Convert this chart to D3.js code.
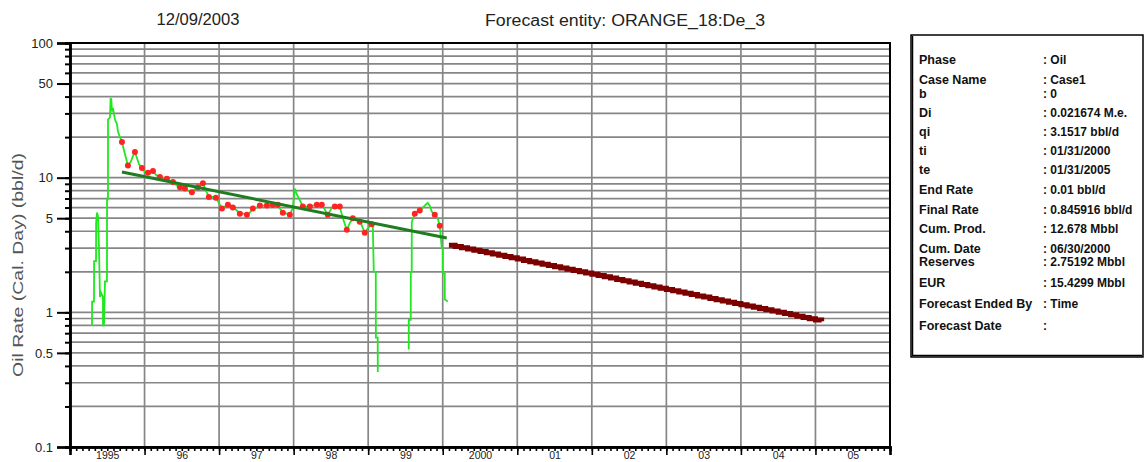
<!DOCTYPE html>
<html>
<head>
<meta charset="utf-8">
<script src="https://cdn.jsdelivr.net/npm/d3@7/dist/d3.min.js"></script>
<style>
  html, body { margin: 0; padding: 0; background: #fff; }
  svg { display: block; }
  text { font-family: "Liberation Sans", Arial, sans-serif; }
  .legend text { font-family: "Liberation Sans Narrow", "Arial Narrow", "Liberation Sans", sans-serif; font-weight: bold; }
</style>
</head>
<body>
<svg id="chart" width="1146" height="462"></svg>
<script>
// ---- Data ----------------------------------------------------------------
// Time is expressed in decimal years.
const plotDate = "12/09/2003";
const entityTitle = "Forecast entity: ORANGE_18:De_3";
const yAxisTitle = "Oil Rate (Cal. Day) (bbl/d)";

const yearTicks = [1995, 1996, 1997, 1998, 1999, 2000, 2001, 2002, 2003, 2004, 2005, 2006];
const yearLabels = ["1995", "96", "97", "98", "99", "2000", "01", "02", "03", "04", "05"];
const rateLabels = [0.1, 0.5, 1, 5, 10, 50, 100];

// Measured oil rate (null marks months with no production)
const actualRate = [
  [1995.295, 0.79], [1995.296, 1.2], [1995.322, 1.2], [1995.323, 2.4], [1995.349, 2.4],
  [1995.350, 4.6], [1995.362, 5.5], [1995.375, 5.2], [1995.389, 3.0], [1995.402, 1.3],
  [1995.416, 1.4], [1995.442, 1.3], [1995.443, 0.80], [1995.456, 0.80], [1995.469, 1.7],
  [1995.496, 1.7], [1995.497, 7.0], [1995.509, 7.0], [1995.510, 27], [1995.536, 28],
  [1995.545, 39], [1995.555, 38], [1995.563, 31], [1995.576, 33], [1995.603, 27],
  [1995.630, 25], [1995.643, 22], [1995.670, 20], [1995.697, 18.4], [1995.724, 16],
  [1995.751, 14], [1995.777, 12.3], [1995.818, 13.2], [1995.845, 14.5], [1995.871, 15.5],
  [1995.898, 14.0], [1995.925, 12.6], [1995.965, 11.8], [1996.005, 11.0], [1996.046, 10.9],
  [1996.080, 11.1], [1996.113, 11.2], [1996.153, 10.5], [1996.206, 10.1], [1996.247, 9.9],
  [1996.300, 9.8], [1996.340, 9.4], [1996.381, 9.3], [1996.434, 8.7], [1996.475, 8.5],
  [1996.542, 8.3], [1996.582, 8.0], [1996.635, 7.8], [1996.676, 8.2], [1996.716, 8.5],
  [1996.756, 8.8], [1996.783, 9.1], [1996.823, 8.0], [1996.863, 7.2], [1996.917, 7.2],
  [1996.957, 7.1], [1996.997, 6.5], [1997.038, 5.9], [1997.078, 6.1], [1997.118, 6.3],
  [1997.158, 6.2], [1997.185, 6.0], [1997.239, 5.7], [1997.279, 5.4], [1997.332, 5.4],
  [1997.373, 5.3], [1997.413, 5.5], [1997.453, 5.9], [1997.507, 6.0], [1997.547, 6.2],
  [1997.601, 6.2], [1997.641, 6.2], [1997.681, 6.2], [1997.721, 6.3], [1997.761, 6.3],
  [1997.788, 6.3], [1997.815, 5.9], [1997.855, 5.5], [1997.909, 5.4], [1997.949, 5.3],
  [1997.989, 6.0], [1998.016, 8.3], [1998.043, 7.5], [1998.083, 6.8], [1998.123, 6.1],
  [1998.164, 6.1], [1998.217, 6.1], [1998.257, 6.2], [1998.311, 6.3], [1998.351, 6.3],
  [1998.378, 6.3], [1998.418, 5.8], [1998.458, 5.3], [1998.499, 5.8], [1998.525, 6.1],
  [1998.552, 6.1], [1998.619, 6.1], [1998.660, 5.0], [1998.713, 4.1], [1998.753, 4.6],
  [1998.794, 5.0], [1998.820, 4.9], [1998.861, 4.8], [1998.887, 4.7], [1998.901, 4.6],
  [1998.954, 3.9], [1998.995, 4.2], [1999.048, 4.5], [1999.062, 4.5], [1999.075, 2.0],
  [1999.102, 2.0], [1999.103, 0.65], [1999.128, 0.65], [1999.129, 0.36],
  [1999.300, null],
  [1999.544, 0.53], [1999.545, 0.88], [1999.571, 0.88], [1999.572, 2.0], [1999.584, 2.0],
  [1999.585, 4.7], [1999.625, 5.4], [1999.665, 5.6], [1999.692, 5.7], [1999.732, 6.0],
  [1999.772, 6.3], [1999.799, 6.5], [1999.826, 6.2], [1999.853, 5.6], [1999.893, 5.3],
  [1999.933, 5.0], [1999.960, 4.4], [1999.987, 3.0], [2000.000, 3.0], [2000.001, 1.95],
  [2000.027, 1.95], [2000.028, 1.25], [2000.067, 1.2]
];

// Points selected for the decline fit
const fitPoints = [
  [1995.697, 18.4], [1995.777, 12.3], [1995.871, 15.5], [1995.965, 11.8], [1996.046, 10.9],
  [1996.113, 11.2], [1996.206, 10.1], [1996.300, 9.8], [1996.381, 9.3], [1996.475, 8.5],
  [1996.542, 8.3], [1996.635, 7.8], [1996.716, 8.5], [1996.783, 9.1], [1996.863, 7.2],
  [1996.957, 7.1], [1997.038, 5.9], [1997.118, 6.3], [1997.185, 6.0], [1997.279, 5.4],
  [1997.373, 5.3], [1997.453, 5.9], [1997.547, 6.2], [1997.641, 6.2], [1997.721, 6.3],
  [1997.788, 6.3], [1997.855, 5.5], [1997.949, 5.3], [1998.123, 6.1], [1998.217, 6.1],
  [1998.311, 6.3], [1998.378, 6.3], [1998.458, 5.3], [1998.552, 6.1], [1998.619, 6.1],
  [1998.713, 4.1], [1998.794, 5.0], [1998.887, 4.7], [1998.954, 3.9], [1999.048, 4.5],
  [1999.625, 5.4], [1999.692, 5.7], [1999.893, 5.3], [1999.960, 4.4]
];

// Exponential decline line through the history
const fitLine = [[1995.697, 11.0], [2000.054, 3.56]];

// Monthly forecast rates, 01/31/2000 to 01/31/2005
const forecastStart = 2000 + 1 / 12;
const forecastRates = [
  3.152, 3.084, 3.018, 2.953, 2.890, 2.828, 2.768, 2.708, 2.650, 2.594,
  2.538, 2.484, 2.430, 2.378, 2.327, 2.277, 2.229, 2.181, 2.134, 2.088,
  2.044, 2.000, 1.957, 1.915, 1.874, 1.834, 1.795, 1.756, 1.719, 1.682,
  1.646, 1.610, 1.576, 1.542, 1.509, 1.477, 1.445, 1.414, 1.384, 1.354,
  1.325, 1.297, 1.269, 1.242, 1.215, 1.189, 1.164, 1.139, 1.114, 1.090,
  1.067, 1.044, 1.022, 1.000, 0.979, 0.958, 0.937, 0.917, 0.897, 0.878,
  0.859
];

const legendLabels = ["Phase", "Case Name", "b", "Di", "qi", "ti", "te", "End Rate", "Final Rate",
  "Cum. Prod.", "Cum. Date", "Reserves", "EUR", "Forecast Ended By", "Forecast Date"];
const legendValues = [": Oil", ": Case1", ": 0", ": 0.021674 M.e.", ": 3.1517 bbl/d", ": 01/31/2000",
  ": 01/31/2005", ": 0.01 bbl/d", ": 0.845916 bbl/d", ": 12.678 Mbbl", ": 06/30/2000",
  ": 2.75192 Mbbl", ": 15.4299 Mbbl", ": Time", ":"];
const legendRowY = [60, 80, 94, 113, 132, 151, 170, 190, 210, 229, 249, 262, 283, 304, 326];

// ---- Chart ---------------------------------------------------------------
const svg = d3.select("#chart");
const plotLeft = 70, plotRight = 890, plotTop = 43, plotBottom = 447;

const x = d3.scaleLinear().domain([1995, 2006]).range([plotLeft, plotRight]);
const y = d3.scaleLog().domain([0.1, 100]).range([plotBottom, plotTop]);

const gridValues = y.ticks();          // 1..9 multiples in every decade
const months = d3.range(1995, 2006 + 1e-9, 1 / 12);

// grid
const grid = svg.append("g").attr("stroke", "#868686").attr("stroke-width", 1.7);
grid.selectAll("line.h").data(gridValues).join("line")
  .attr("class", "h")
  .attr("x1", plotLeft).attr("x2", plotRight)
  .attr("y1", d => y(d)).attr("y2", d => y(d));
grid.selectAll("line.v").data(yearTicks.slice(1, -1)).join("line")
  .attr("class", "v")
  .attr("y1", plotTop).attr("y2", plotBottom)
  .attr("x1", d => x(d)).attr("x2", d => x(d));

// measured rate
svg.append("path")
  .datum(actualRate)
  .attr("fill", "none")
  .attr("stroke", "#1fe81f")
  .attr("stroke-width", 1.8)
  .attr("d", d3.line().defined(d => d[1] != null).x(d => x(d[0])).y(d => y(d[1])));

// points used in the fit
svg.append("g").attr("fill", "#ff2424")
  .selectAll("circle").data(fitPoints).join("circle")
  .attr("cx", d => x(d[0])).attr("cy", d => y(d[1])).attr("r", 3);

// decline fit
svg.append("path")
  .datum(fitLine)
  .attr("fill", "none")
  .attr("stroke", "#1f7d1f")
  .attr("stroke-width", 3)
  .attr("d", d3.line().x(d => x(d[0])).y(d => y(d[1])));

// forecast
svg.append("path")
  .datum(forecastRates.map((q, i) => [forecastStart + i / 12, q]))
  .attr("fill", "none")
  .attr("stroke", "#7d0000")
  .attr("stroke-width", 5)
  .attr("d", d3.line().curve(d3.curveStepAfter).x(d => x(d[0])).y(d => y(d[1])));

// frame
svg.append("rect")
  .attr("x", plotLeft).attr("y", plotTop)
  .attr("width", plotRight - plotLeft).attr("height", plotBottom - plotTop)
  .attr("fill", "none").attr("stroke", "#000").attr("stroke-width", 2);

// y axis: minor ticks, then labelled majors
const yMinor = svg.append("g").attr("transform", `translate(${plotLeft},0)`)
  .call(d3.axisLeft(y).tickValues(gridValues).tickSize(5).tickFormat(""));
const yMajor = svg.append("g").attr("transform", `translate(${plotLeft},0)`)
  .call(d3.axisLeft(y).tickValues(rateLabels).tickSize(13).tickPadding(4)
    .tickFormat(d => String(d)));
[yMinor, yMajor].forEach(g => {
  g.select(".domain").attr("stroke", "#000").attr("stroke-width", 2.5);
  g.selectAll(".tick line").attr("stroke", "#000").attr("stroke-width", 2);
});
yMajor.selectAll(".tick text")
  .attr("font-size", 13).attr("fill", "#222")
  .style("font-family", "'Liberation Sans', Arial, sans-serif");

// x axis: monthly minor ticks, yearly majors, labels at mid-year
const xMinor = svg.append("g").attr("transform", `translate(0,${plotBottom})`)
  .call(d3.axisBottom(x).tickValues(months).tickSize(4).tickFormat(""));
const xMajor = svg.append("g").attr("transform", `translate(0,${plotBottom})`)
  .call(d3.axisBottom(x).tickValues(yearTicks).tickSize(8).tickFormat(""));
[xMinor, xMajor].forEach(g => {
  g.select(".domain").attr("stroke", "#000").attr("stroke-width", 2.5);
  g.selectAll(".tick line").attr("stroke", "#000").attr("stroke-width", 1.6);
});
const xLab = svg.append("g").attr("transform", `translate(0,${plotBottom})`)
  .call(d3.axisBottom(x).tickValues(yearLabels.map((_, i) => 1995.5 + i))
    .tickSize(0).tickPadding(5).tickFormat((d, i) => yearLabels[i]));
xLab.select(".domain").remove();
xLab.selectAll(".tick text")
  .attr("font-size", 10.5).attr("fill", "#222")
  .style("font-family", "'Liberation Sans', Arial, sans-serif");

// titles
svg.append("text")
  .attr("x", 198).attr("y", 25).attr("text-anchor", "middle")
  .attr("font-size", 16).attr("fill", "#222")
  .attr("textLength", 83).attr("lengthAdjust", "spacingAndGlyphs")
  .text(plotDate);
svg.append("text")
  .attr("x", 625).attr("y", 26).attr("text-anchor", "middle")
  .attr("font-size", 16).attr("fill", "#222")
  .attr("textLength", 280).attr("lengthAdjust", "spacingAndGlyphs")
  .text(entityTitle);
svg.append("text")
  .attr("transform", "translate(23,265) rotate(-90)")
  .attr("text-anchor", "middle")
  .attr("font-size", 14).attr("fill", "#555")
  .attr("textLength", 224).attr("lengthAdjust", "spacingAndGlyphs")
  .text(yAxisTitle);

// parameter box
const legend = svg.append("g").attr("class", "legend");
legend.append("rect")
  .attr("x", 911).attr("y", 35).attr("width", 232).attr("height", 322)
  .attr("fill", "#fff").attr("stroke", "#000").attr("stroke-width", 1.5);
legend.append("path")
  .attr("d", "M912.5,36 V355.5 H1142")
  .attr("fill", "none").attr("stroke", "#000").attr("stroke-width", 1.5);
legend.selectAll("text.k").data(legendLabels).join("text")
  .attr("class", "k")
  .attr("x", 919).attr("y", (d, i) => legendRowY[i] + 4)
  .attr("font-size", 12.5).attr("fill", "#111")
  .text(d => d);
legend.selectAll("text.v").data(legendValues).join("text")
  .attr("class", "v")
  .attr("x", 1043).attr("y", (d, i) => legendRowY[i] + 4)
  .attr("font-size", 12).attr("fill", "#111")
  .text(d => d);
</script>
</body>
</html>
